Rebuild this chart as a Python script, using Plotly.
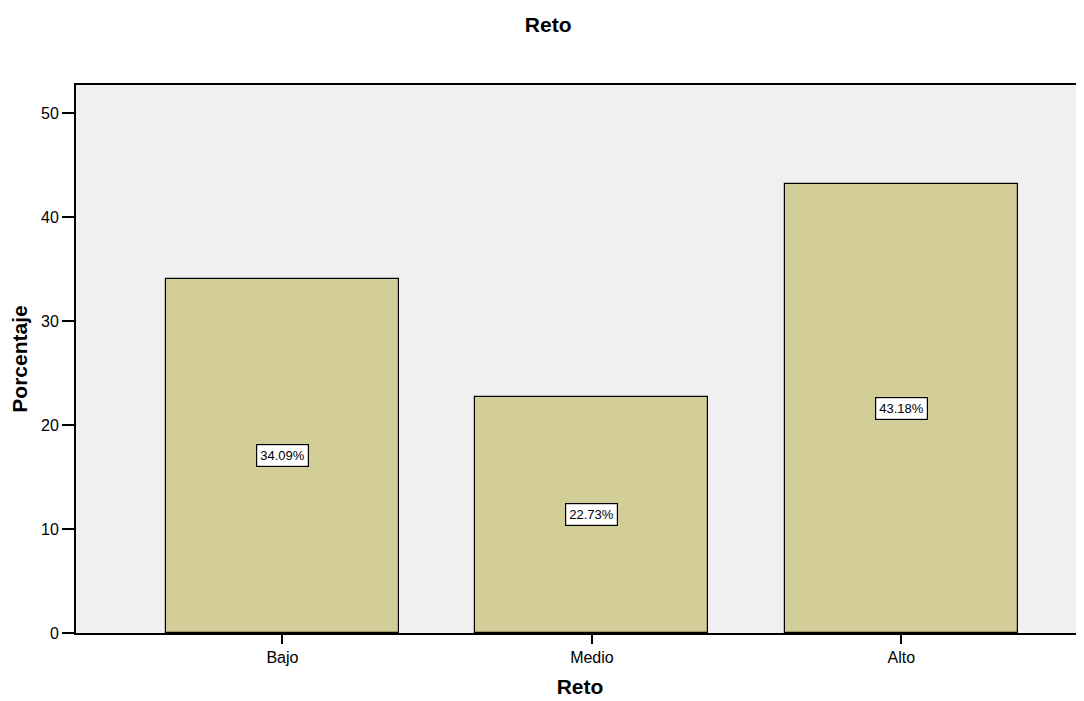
import plotly.graph_objects as go

categories = ["Bajo", "Medio", "Alto"]
values = [34.09, 22.73, 43.18]
labels = ["34.09%", "22.73%", "43.18%"]

fig = go.Figure()
fig.add_trace(go.Bar(
    x=categories, y=values, width=0.753,
    marker=dict(color="#d3ce98", line=dict(color="black", width=1.2)),
    hoverinfo="skip",
))
for c, v, t in zip(categories, values, labels):
    fig.add_annotation(x=c, y=v / 2, text=t, showarrow=False,
                       font=dict(family="Liberation Sans, Arial", size=13, color="black"),
                       bgcolor="white", bordercolor="black", borderwidth=1.2, borderpad=3)

fig.update_layout(
    width=1076, height=693,
    margin=dict(l=68, r=0, t=77, b=68),
    paper_bgcolor="white", plot_bgcolor="#f0f0f0",
    font=dict(family="Liberation Sans, Arial", color="black", size=16),
    title=dict(text="<b>Reto</b>", x=0.502, xanchor="center", y=0.976, yanchor="middle",
               font=dict(size=21)),
    showlegend=False,
    bargap=0,
)
fig.update_xaxes(
    range=[-0.667, 2.59], showline=True, linecolor="black", linewidth=2, mirror=True,
    ticks="outside", ticklen=9, tickcolor="black", tickwidth=2,
    tickfont=dict(size=16), showgrid=False,
    title=dict(text="<b>Reto</b>", font=dict(size=21), standoff=14),
)
fig.update_yaxes(
    range=[0, 52.7], tickvals=[0, 10, 20, 30, 40, 50], showline=True, linecolor="black",
    linewidth=2, ticks="outside", ticklen=12, tickcolor="black", tickwidth=2,
    tickfont=dict(size=16), showgrid=False, zeroline=False,
    title=dict(text="<b>Porcentaje</b>", font=dict(size=21), standoff=8),
)
fig.write_html("out.html")
